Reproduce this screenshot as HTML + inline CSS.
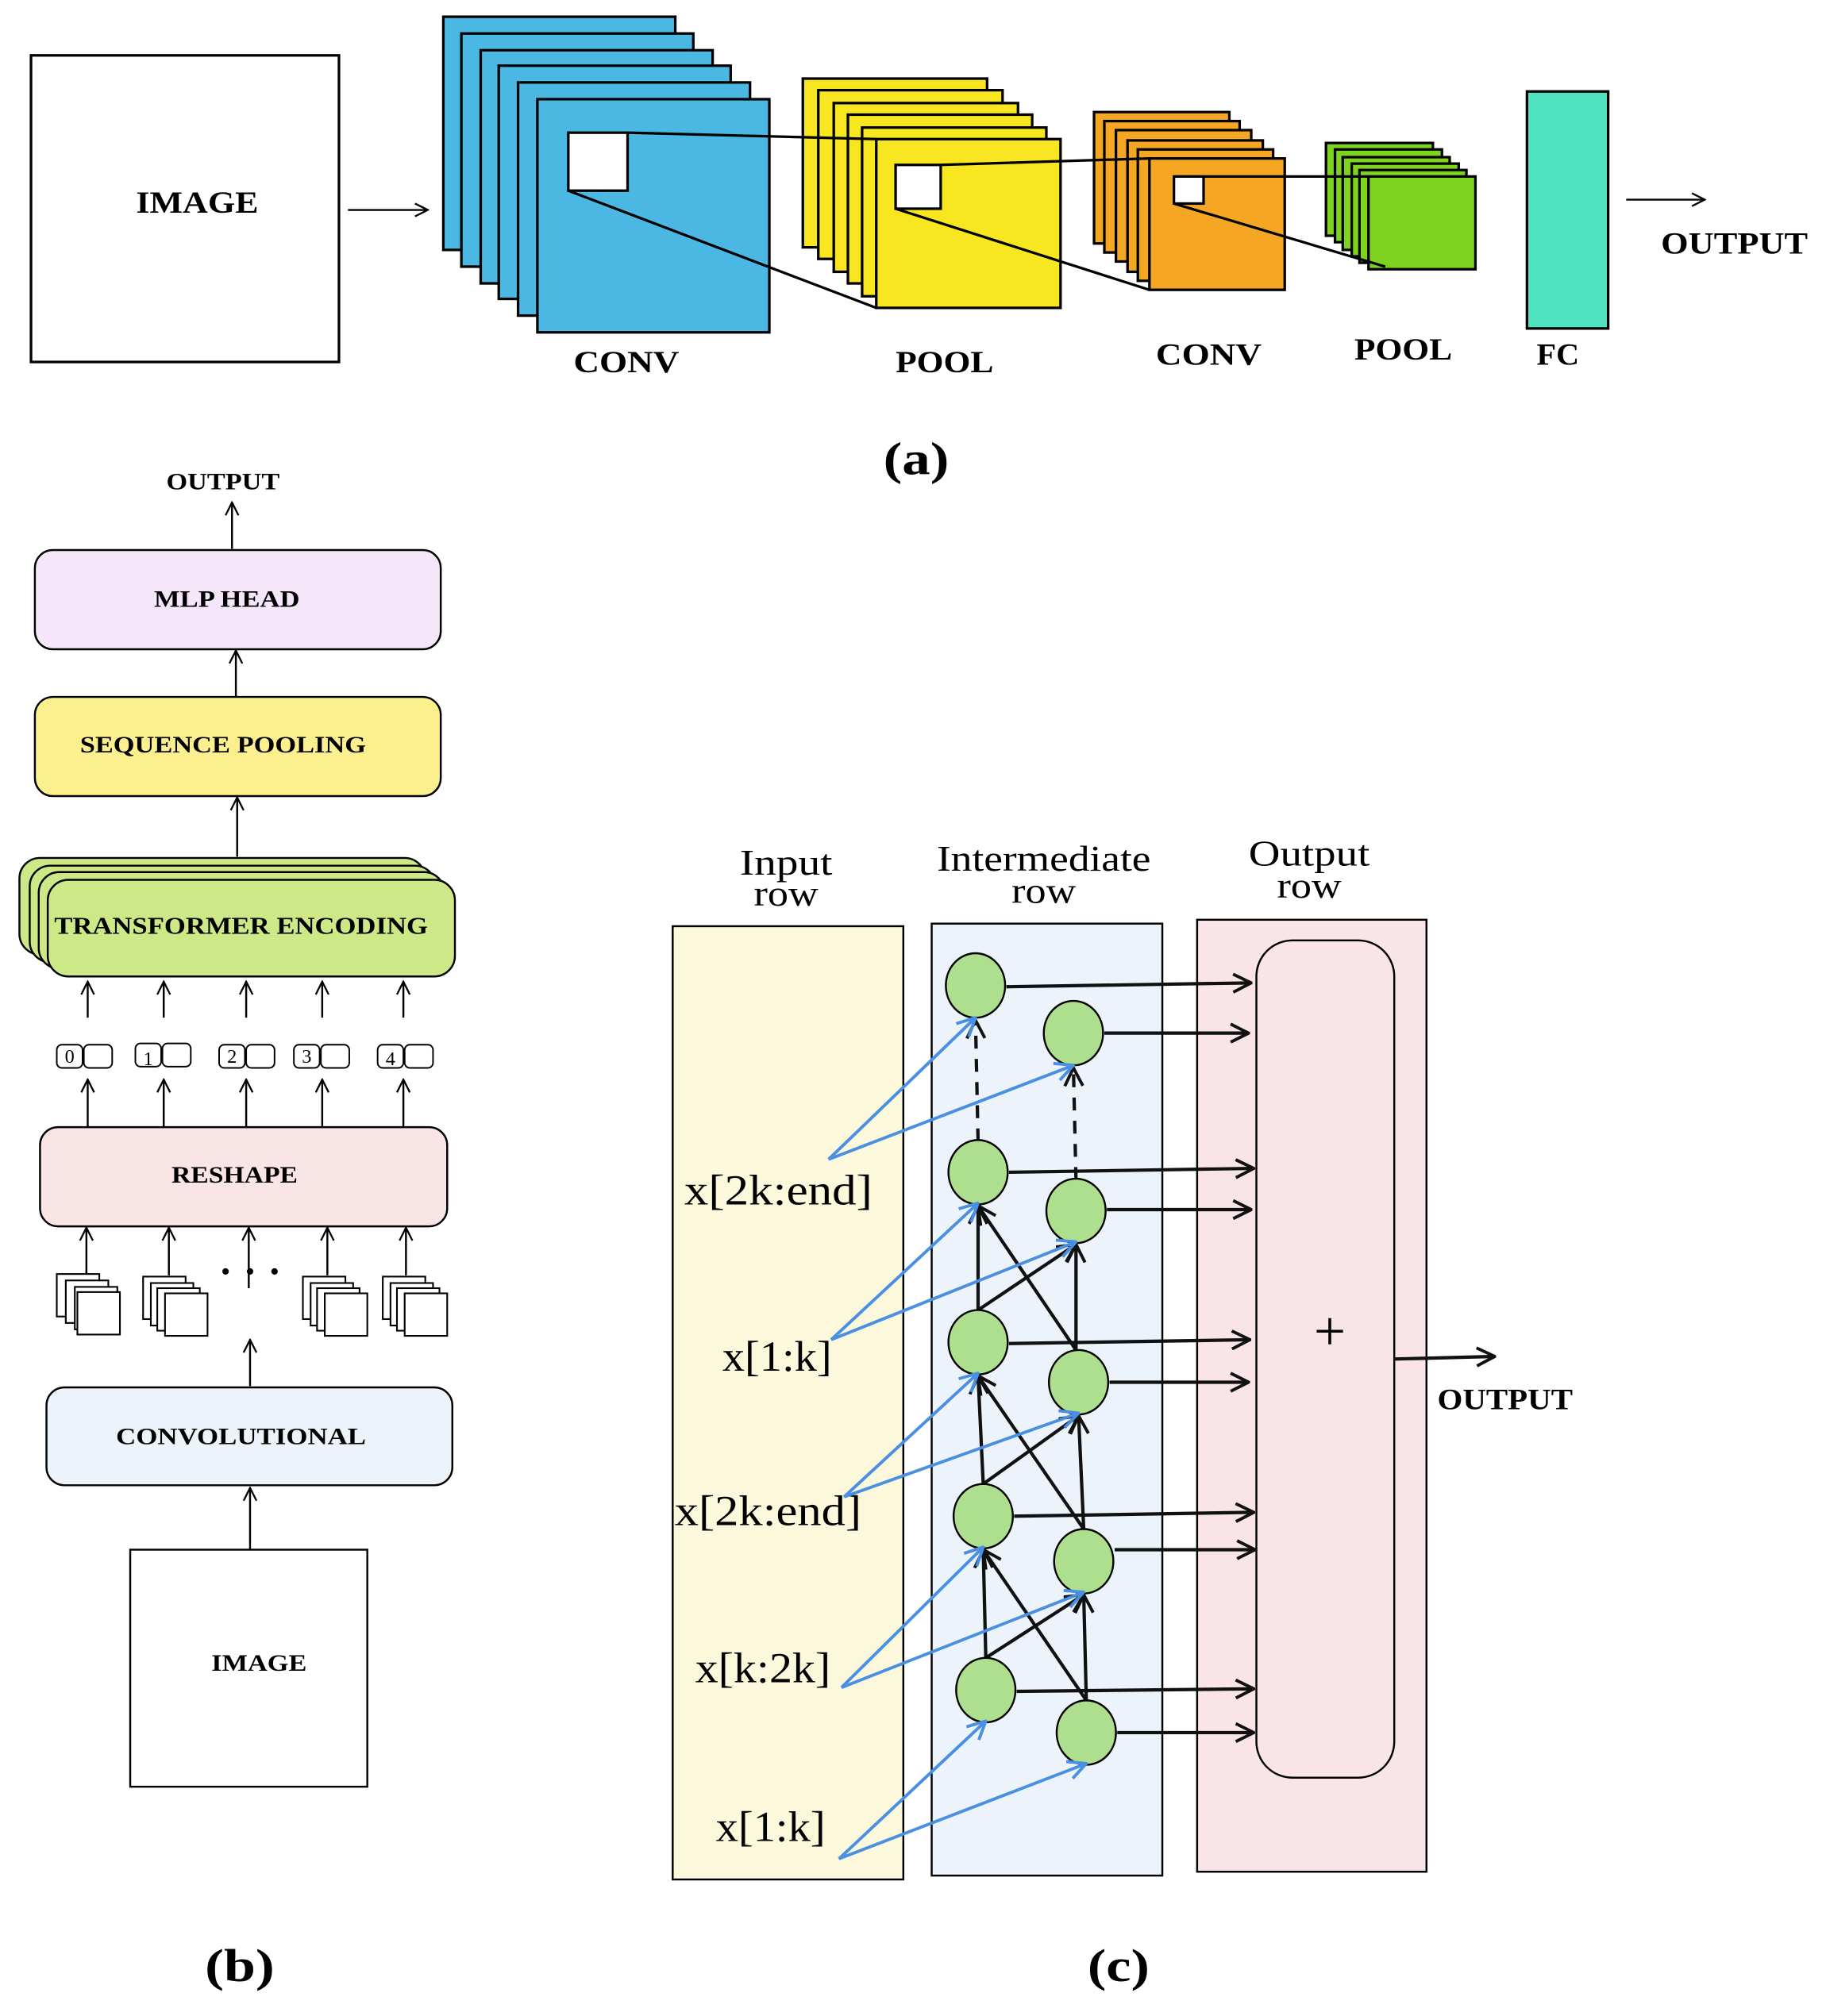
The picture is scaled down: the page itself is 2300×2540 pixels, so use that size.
<!DOCTYPE html>
<html><head><meta charset="utf-8"><style>html,body{margin:0;padding:0;background:#fff}svg{display:block}</style></head><body>
<svg xmlns="http://www.w3.org/2000/svg" width="2300" height="2540" viewBox="0 0 1417 1565">
<defs>
<marker id="a" viewBox="0 0 12 12" refX="11" refY="6" markerWidth="12" markerHeight="12" markerUnits="userSpaceOnUse" orient="auto"><path d="M1,1 L11,6 L1,11" fill="none" stroke="#000" stroke-width="1.4"/></marker>
<marker id="ab" viewBox="0 0 16 16" refX="15" refY="8" markerWidth="16" markerHeight="16" markerUnits="userSpaceOnUse" orient="auto"><path d="M1,1 L15,8 L1,15" fill="none" stroke="#111" stroke-width="2.4"/></marker>
<marker id="bl" viewBox="0 0 16 16" refX="15" refY="8" markerWidth="16" markerHeight="16" markerUnits="userSpaceOnUse" orient="auto"><path d="M1,1 L15,8 L1,15" fill="none" stroke="#4a90e2" stroke-width="2.4"/></marker>
</defs>
<rect width="1417" height="1565" fill="#fff"/>
<g font-family="Liberation Serif, serif" font-weight="bold" fill="#000" text-anchor="middle">
<!-- (a) -->
<rect x="24" y="43" width="239" height="238" fill="#fff" stroke="#000" stroke-width="2"/>
<text x="153" y="165" font-size="24" textLength="95" lengthAdjust="spacingAndGlyphs">IMAGE</text>
<line x1="270" y1="163" x2="332" y2="163" stroke="#000" stroke-width="1.5" marker-end="url(#a)"/>
<g fill="#4ab8e3" stroke="#000" stroke-width="2">
<rect x="344" y="13" width="180" height="181"/><rect x="358" y="26" width="180" height="181"/><rect x="373" y="39" width="180" height="181"/><rect x="387" y="51" width="180" height="181"/><rect x="402" y="64" width="180" height="181"/><rect x="417" y="77" width="180" height="181"/>
</g>
<rect x="441" y="103" width="46" height="45" fill="#fff" stroke="#000" stroke-width="2"/>
<g fill="#f7e620" stroke="#000" stroke-width="2">
<rect x="623" y="61" width="143" height="131"/><rect x="635" y="70" width="143" height="131"/><rect x="647" y="80" width="143" height="131"/><rect x="658" y="89" width="143" height="131"/><rect x="669" y="99" width="143" height="131"/><rect x="680" y="108" width="143" height="131"/>
</g>
<rect x="695" y="128" width="35" height="34" fill="#fff" stroke="#000" stroke-width="2"/>
<g fill="#f5a623" stroke="#000" stroke-width="2">
<rect x="849" y="87" width="105" height="102"/><rect x="857" y="94" width="105" height="102"/><rect x="866" y="101" width="105" height="102"/><rect x="875" y="109" width="105" height="102"/><rect x="883" y="116" width="105" height="102"/><rect x="892" y="123" width="105" height="102"/>
</g>
<rect x="911" y="137" width="23" height="21" fill="#fff" stroke="#000" stroke-width="2"/>
<g fill="#7ed321" stroke="#000" stroke-width="2">
<rect x="1029" y="111" width="83" height="72"/><rect x="1036" y="116" width="83" height="72"/><rect x="1042" y="122" width="83" height="72"/><rect x="1049" y="127" width="83" height="72"/><rect x="1055" y="132" width="83" height="72"/><rect x="1062" y="137" width="83" height="72"/>
</g>
<rect x="1185" y="71" width="63" height="184" fill="#50e3c2" stroke="#000" stroke-width="2"/>
<g stroke="#000" stroke-width="2">
<line x1="487" y1="103" x2="680" y2="108"/><line x1="441" y1="148" x2="680" y2="239"/>
<line x1="730" y1="128" x2="892" y2="123"/><line x1="695" y1="162" x2="892" y2="225"/>
<line x1="934" y1="137" x2="1062" y2="137"/><line x1="911" y1="158" x2="1075" y2="207"/>
</g>
<line x1="1262" y1="155" x2="1323" y2="155" stroke="#000" stroke-width="1.5" marker-end="url(#a)"/>
<text x="1346" y="197" font-size="24" textLength="114" lengthAdjust="spacingAndGlyphs">OUTPUT</text>
<text x="486" y="289" font-size="24" textLength="82" lengthAdjust="spacingAndGlyphs">CONV</text>
<text x="733" y="289" font-size="24" textLength="76" lengthAdjust="spacingAndGlyphs">POOL</text>
<text x="938" y="283" font-size="24" textLength="82" lengthAdjust="spacingAndGlyphs">CONV</text>
<text x="1089" y="279" font-size="24" textLength="76" lengthAdjust="spacingAndGlyphs">POOL</text>
<text x="1209" y="283" font-size="24" textLength="33" lengthAdjust="spacingAndGlyphs">FC</text>
<text x="711" y="368" font-size="36" textLength="51" lengthAdjust="spacingAndGlyphs">(a)</text>

<!-- (b) -->
<text x="173" y="380" font-size="18" textLength="88" lengthAdjust="spacingAndGlyphs">OUTPUT</text>
<line x1="180" y1="426" x2="180" y2="390" stroke="#000" stroke-width="1.5" marker-end="url(#a)"/>
<rect x="27" y="427" width="315" height="77" rx="14" fill="#f5e6fa" stroke="#000" stroke-width="1.5"/>
<text x="176" y="471" font-size="18" textLength="113" lengthAdjust="spacingAndGlyphs">MLP HEAD</text>
<line x1="183" y1="541" x2="183" y2="505" stroke="#000" stroke-width="1.5" marker-end="url(#a)"/>
<rect x="27" y="541" width="315" height="77" rx="14" fill="#fcf08e" stroke="#000" stroke-width="1.5"/>
<text x="173" y="584" font-size="18" textLength="222" lengthAdjust="spacingAndGlyphs">SEQUENCE POOLING</text>
<line x1="184" y1="665" x2="184" y2="619" stroke="#000" stroke-width="1.5" marker-end="url(#a)"/>
<g fill="#cde987" stroke="#000" stroke-width="1.5">
<rect x="15" y="666" width="315" height="75" rx="16"/><rect x="23" y="672" width="315" height="75" rx="16"/><rect x="30" y="677" width="315" height="75" rx="16"/><rect x="37" y="683" width="316" height="75" rx="16"/>
</g>
<text x="187" y="725" font-size="19" textLength="290" lengthAdjust="spacingAndGlyphs">TRANSFORMER ENCODING</text>
<g stroke="#000" stroke-width="1.5" marker-end="url(#a)">
<line x1="68" y1="790" x2="68" y2="762"/><line x1="127" y1="790" x2="127" y2="762"/><line x1="191" y1="790" x2="191" y2="762"/><line x1="250" y1="790" x2="250" y2="762"/><line x1="313" y1="790" x2="313" y2="762"/>
<line x1="68" y1="875" x2="68" y2="838"/><line x1="127" y1="875" x2="127" y2="838"/><line x1="191" y1="875" x2="191" y2="838"/><line x1="250" y1="875" x2="250" y2="838"/><line x1="313" y1="875" x2="313" y2="838"/>
<line x1="67" y1="990" x2="67" y2="953"/><line x1="131" y1="990" x2="131" y2="953"/><line x1="193" y1="1000" x2="193" y2="953"/><line x1="254" y1="990" x2="254" y2="953"/><line x1="315" y1="990" x2="315" y2="953"/>
<line x1="194" y1="1076" x2="194" y2="1040"/><line x1="194" y1="1203" x2="194" y2="1155"/>
</g>
<g fill="#fff" stroke="#000" stroke-width="1.2">
<rect x="44" y="811" width="20" height="18" rx="4"/><rect x="65" y="811" width="22" height="18" rx="4"/>
<rect x="105" y="810" width="20" height="18" rx="4"/><rect x="126" y="810" width="22" height="18" rx="4"/>
<rect x="170" y="811" width="20" height="18" rx="4"/><rect x="191" y="811" width="22" height="18" rx="4"/>
<rect x="228" y="811" width="20" height="18" rx="4"/><rect x="249" y="811" width="22" height="18" rx="4"/>
<rect x="293" y="811" width="20" height="18" rx="4"/><rect x="314" y="811" width="22" height="18" rx="4"/>
</g>
<g font-weight="normal" font-size="15">
<text x="54" y="825">0</text><text x="115" y="827">1</text><text x="180" y="825">2</text><text x="238" y="825">3</text><text x="303" y="827">4</text>
</g>
<rect x="31" y="875" width="316" height="77" rx="14" fill="#f9e4e6" stroke="#000" stroke-width="1.5"/>
<text x="182" y="918" font-size="18" textLength="98" lengthAdjust="spacingAndGlyphs">RESHAPE</text>
<g fill="#fff" stroke="#000" stroke-width="1.3">
<rect x="44" y="989" width="33" height="33"/><rect x="51" y="994" width="33" height="33"/><rect x="58" y="999" width="33" height="33"/><rect x="60" y="1003" width="33" height="33"/>
<rect x="111" y="991" width="33" height="33"/><rect x="117" y="996" width="33" height="33"/><rect x="122" y="1000" width="33" height="33"/><rect x="128" y="1004" width="33" height="33"/>
<rect x="235" y="991" width="33" height="33"/><rect x="241" y="996" width="33" height="33"/><rect x="246" y="1000" width="33" height="33"/><rect x="252" y="1004" width="33" height="33"/>
<rect x="297" y="991" width="33" height="33"/><rect x="303" y="996" width="33" height="33"/><rect x="308" y="1000" width="33" height="33"/><rect x="314" y="1004" width="33" height="33"/>
</g>
<circle cx="175" cy="987" r="2.5"/><circle cx="194" cy="987" r="2.5"/><circle cx="213" cy="987" r="2.5"/>
<rect x="36" y="1077" width="315" height="76" rx="14" fill="#edf3fb" stroke="#000" stroke-width="1.5"/>
<text x="187" y="1121" font-size="18" textLength="194" lengthAdjust="spacingAndGlyphs">CONVOLUTIONAL</text>
<rect x="101" y="1203" width="184" height="184" fill="#fff" stroke="#000" stroke-width="1.5"/>
<text x="201" y="1297" font-size="18" textLength="74" lengthAdjust="spacingAndGlyphs">IMAGE</text>
<text x="186" y="1538" font-size="36" textLength="54" lengthAdjust="spacingAndGlyphs">(b)</text>

<!-- (c) -->
<rect x="522" y="719" width="179" height="740" fill="#fcf8dc" stroke="#000" stroke-width="1.5"/>
<rect x="723" y="717" width="179" height="739" fill="#edf3fb" stroke="#000" stroke-width="1.5"/>
<rect x="929" y="714" width="178" height="739" fill="#f9e5e8" stroke="#000" stroke-width="1.5"/>
<rect x="975" y="730" width="107" height="650" rx="28" fill="none" stroke="#000" stroke-width="1.5"/>
<g font-weight="normal" font-size="28">
<text x="610" y="679" textLength="72" lengthAdjust="spacingAndGlyphs">Input</text><text x="610" y="703" textLength="50" lengthAdjust="spacingAndGlyphs">row</text>
<text x="810" y="676" textLength="166" lengthAdjust="spacingAndGlyphs">Intermediate</text><text x="810" y="701" textLength="50" lengthAdjust="spacingAndGlyphs">row</text>
<text x="1016" y="672" textLength="94" lengthAdjust="spacingAndGlyphs">Output</text><text x="1016" y="697" textLength="50" lengthAdjust="spacingAndGlyphs">row</text>
<text x="604" y="935" font-size="33" textLength="146" lengthAdjust="spacingAndGlyphs">x[2k:end]</text>
<text x="603" y="1064" font-size="33" textLength="85" lengthAdjust="spacingAndGlyphs">x[1:k]</text>
<text x="596" y="1184" font-size="33" textLength="145" lengthAdjust="spacingAndGlyphs">x[2k:end]</text>
<text x="592" y="1306" font-size="33" textLength="105" lengthAdjust="spacingAndGlyphs">x[k:2k]</text>
<text x="598" y="1429" font-size="33" textLength="85" lengthAdjust="spacingAndGlyphs">x[1:k]</text>
<text x="1032" y="1048" font-size="44">+</text>
</g>
<g stroke="#111" stroke-width="2.6" fill="none">
<line x1="759" y1="886" x2="757" y2="792" stroke-dasharray="10,8" marker-end="url(#ab)"/>
<line x1="835" y1="916" x2="833" y2="829" stroke-dasharray="10,8" marker-end="url(#ab)"/>
<line x1="759" y1="1017" x2="759" y2="936" marker-end="url(#ab)"/>
<line x1="759" y1="1017" x2="835" y2="966" marker-end="url(#ab)"/>
<line x1="835" y1="1048" x2="759" y2="936" marker-end="url(#ab)"/>
<line x1="835" y1="1048" x2="835" y2="966" marker-end="url(#ab)"/>
<line x1="763" y1="1152" x2="759" y2="1068" marker-end="url(#ab)"/>
<line x1="763" y1="1152" x2="837" y2="1099" marker-end="url(#ab)"/>
<line x1="841" y1="1187" x2="759" y2="1068" marker-end="url(#ab)"/>
<line x1="841" y1="1187" x2="837" y2="1099" marker-end="url(#ab)"/>
<line x1="765" y1="1287" x2="763" y2="1203" marker-end="url(#ab)"/>
<line x1="765" y1="1287" x2="841" y2="1238" marker-end="url(#ab)"/>
<line x1="843" y1="1320" x2="763" y2="1203" marker-end="url(#ab)"/>
<line x1="843" y1="1320" x2="841" y2="1238" marker-end="url(#ab)"/>
<line x1="781" y1="766" x2="971" y2="763" marker-end="url(#ab)"/>
<line x1="857" y1="802" x2="969" y2="802" marker-end="url(#ab)"/>
<line x1="783" y1="910" x2="973" y2="907" marker-end="url(#ab)"/>
<line x1="859" y1="939" x2="971" y2="939" marker-end="url(#ab)"/>
<line x1="783" y1="1043" x2="970" y2="1040" marker-end="url(#ab)"/>
<line x1="861" y1="1073" x2="969" y2="1073" marker-end="url(#ab)"/>
<line x1="787" y1="1177" x2="973" y2="1174" marker-end="url(#ab)"/>
<line x1="865" y1="1203" x2="974" y2="1203" marker-end="url(#ab)"/>
<line x1="789" y1="1313" x2="973" y2="1311" marker-end="url(#ab)"/>
<line x1="867" y1="1345" x2="973" y2="1345" marker-end="url(#ab)"/>
<line x1="1082" y1="1055" x2="1160" y2="1053" marker-end="url(#ab)"/>
</g>
<g fill="#aedf8e" stroke="#000" stroke-width="1.5">
<ellipse cx="757" cy="765" rx="23" ry="25"/><ellipse cx="833" cy="802" rx="23" ry="25"/>
<ellipse cx="759" cy="910" rx="23" ry="25"/><ellipse cx="835" cy="940" rx="23" ry="25"/>
<ellipse cx="759" cy="1042" rx="23" ry="25"/><ellipse cx="837" cy="1073" rx="23" ry="25"/>
<ellipse cx="763" cy="1177" rx="23" ry="25"/><ellipse cx="841" cy="1212" rx="23" ry="25"/>
<ellipse cx="765" cy="1312" rx="23" ry="25"/><ellipse cx="843" cy="1345" rx="23" ry="25"/>
</g>
<g stroke="#4a90e2" stroke-width="2.4" fill="none">
<line x1="643" y1="900" x2="757" y2="790" marker-end="url(#bl)"/><line x1="643" y1="900" x2="833" y2="827" marker-end="url(#bl)"/>
<line x1="645" y1="1040" x2="759" y2="934" marker-end="url(#bl)"/><line x1="645" y1="1040" x2="835" y2="964" marker-end="url(#bl)"/>
<line x1="655" y1="1162" x2="759" y2="1066" marker-end="url(#bl)"/><line x1="655" y1="1162" x2="837" y2="1097" marker-end="url(#bl)"/>
<line x1="653" y1="1310" x2="763" y2="1201" marker-end="url(#bl)"/><line x1="653" y1="1310" x2="841" y2="1236" marker-end="url(#bl)"/>
<line x1="651" y1="1443" x2="765" y2="1336" marker-end="url(#bl)"/><line x1="651" y1="1443" x2="843" y2="1369" marker-end="url(#bl)"/>
</g>
<text x="1168" y="1094" font-size="23" textLength="105" lengthAdjust="spacingAndGlyphs">OUTPUT</text>
<text x="868" y="1538" font-size="36" textLength="48" lengthAdjust="spacingAndGlyphs">(c)</text>
</g>
</svg>
</body></html>
